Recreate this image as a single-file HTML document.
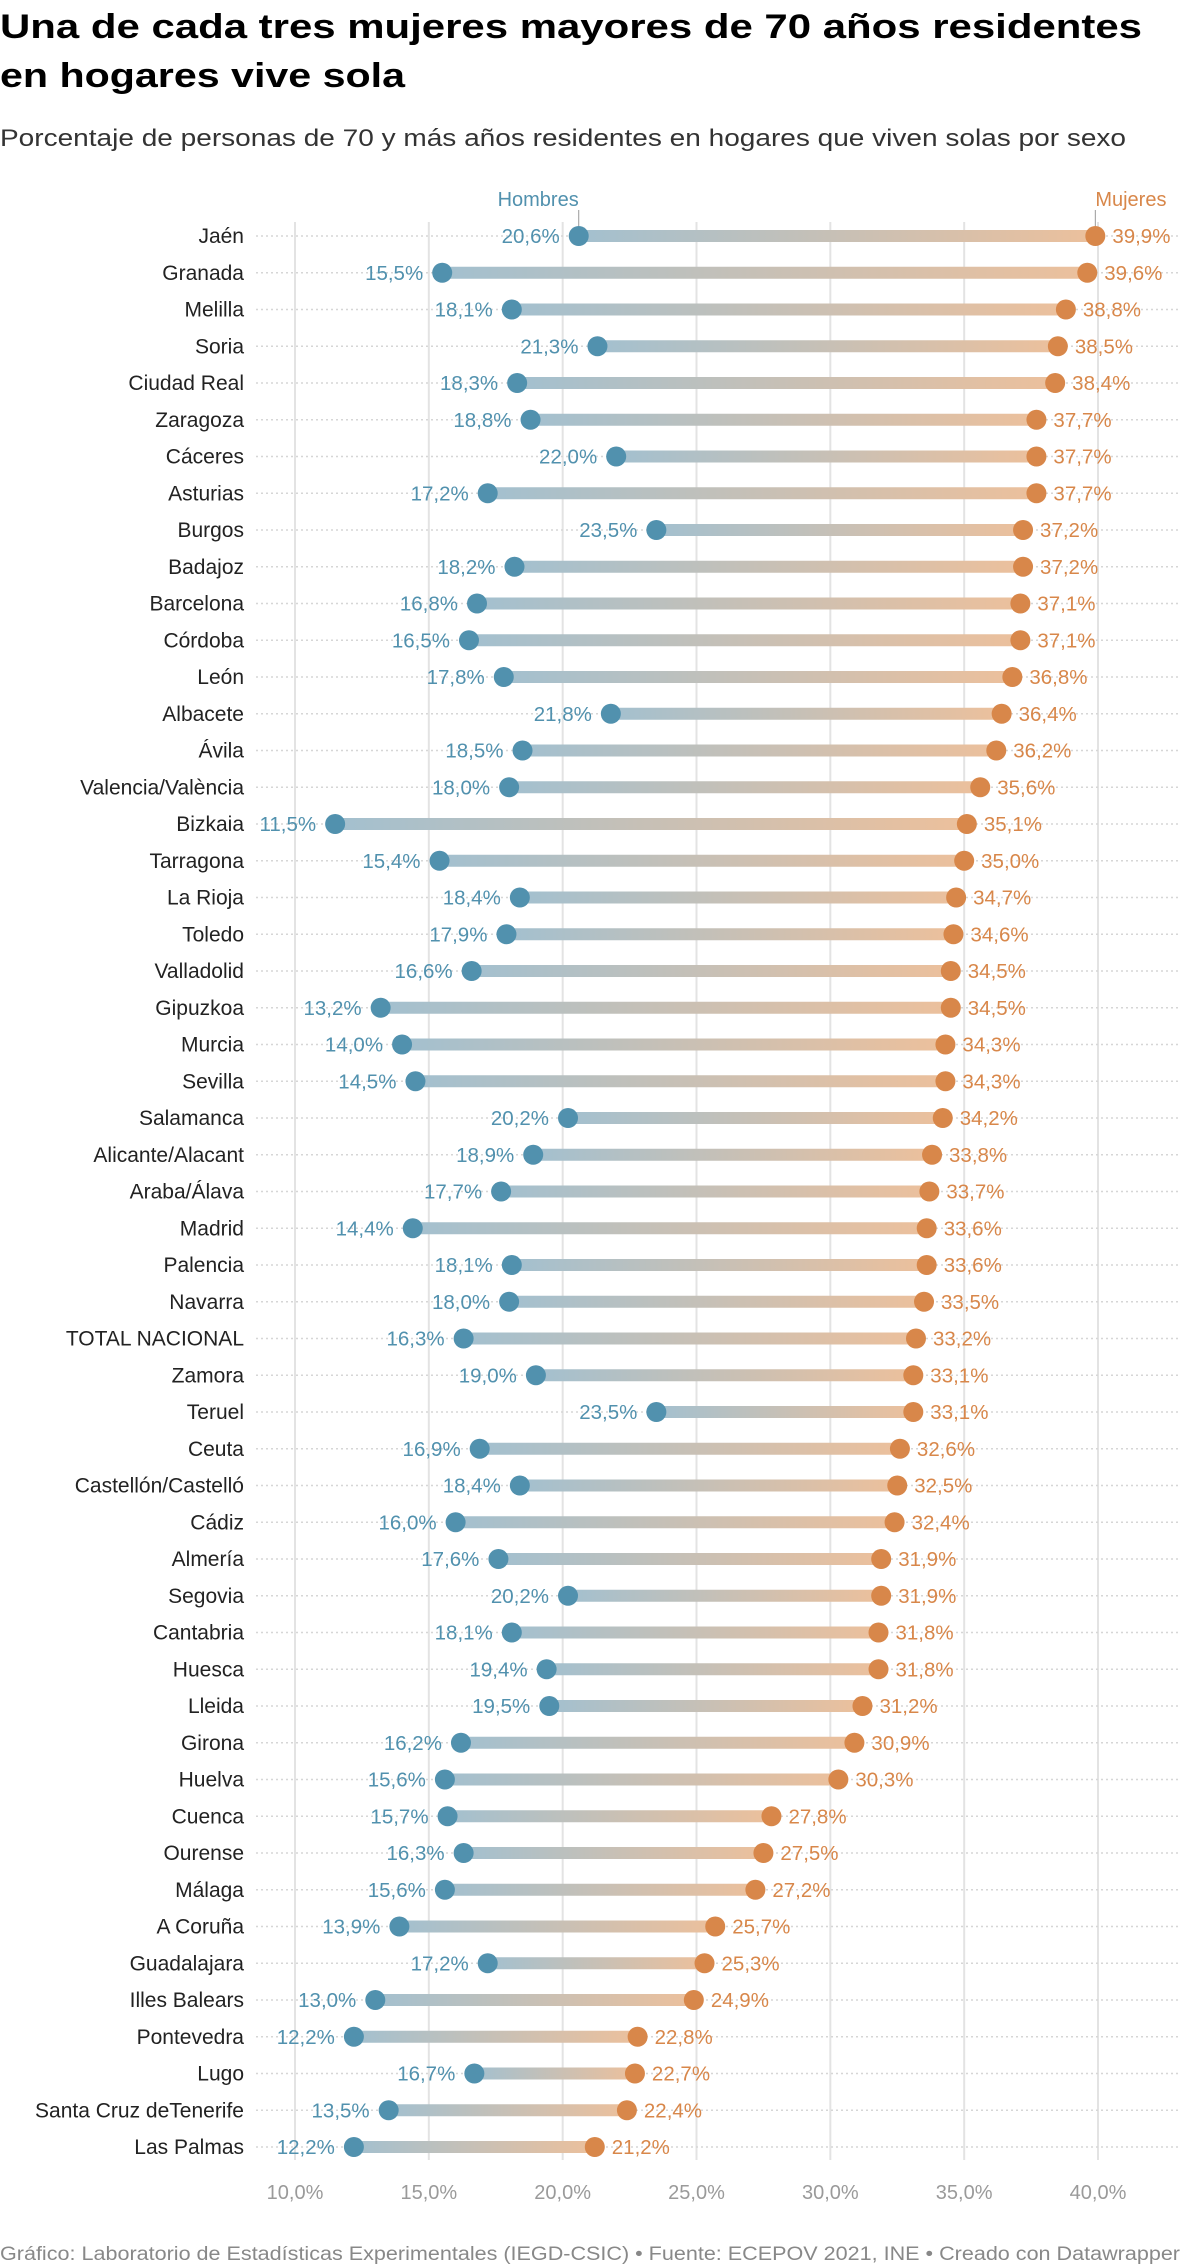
<!DOCTYPE html>
<html><head><meta charset="utf-8"><style>
html,body{margin:0;padding:0;background:#fff;}
svg{display:block;font-family:"Liberation Sans",sans-serif;}
</style></head><body>
<svg id="chart" width="1200" height="2266" viewBox="0 0 1200 2266" xmlns="http://www.w3.org/2000/svg">
<defs>
<linearGradient id="barGrad" x1="0" x2="1" y1="0" y2="0">
<stop offset="0" stop-color="#a3c0cf"/><stop offset="1" stop-color="#ecc09c"/>
</linearGradient>
</defs>
<text x="0" y="38" font-size="34" font-weight="bold" fill="#000" textLength="1142" lengthAdjust="spacingAndGlyphs">Una de cada tres mujeres mayores de 70 años residentes</text>
<text x="0" y="87" font-size="34" font-weight="bold" fill="#000" textLength="405" lengthAdjust="spacingAndGlyphs">en hogares vive sola</text>
<text x="0" y="146" font-size="24" fill="#333" textLength="1126" lengthAdjust="spacingAndGlyphs">Porcentaje de personas de 70 y más años residentes en hogares que viven solas por sexo</text>
<g id="grid"></g>
<g id="rows"></g>
<g id="xaxis"></g>
<text x="0" y="2260" font-size="19" fill="#888" textLength="1180" lengthAdjust="spacingAndGlyphs">Gráfico: Laboratorio de Estadísticas Experimentales (IEGD-CSIC) • Fuente: ECEPOV 2021, INE • Creado con Datawrapper</text>
</svg>
<script>
const categories = ["Jaén","Granada","Melilla","Soria","Ciudad Real","Zaragoza","Cáceres","Asturias","Burgos","Badajoz","Barcelona","Córdoba","León","Albacete","Ávila","Valencia/València","Bizkaia","Tarragona","La Rioja","Toledo","Valladolid","Gipuzkoa","Murcia","Sevilla","Salamanca","Alicante/Alacant","Araba/Álava","Madrid","Palencia","Navarra","TOTAL NACIONAL","Zamora","Teruel","Ceuta","Castellón/Castelló","Cádiz","Almería","Segovia","Cantabria","Huesca","Lleida","Girona","Huelva","Cuenca","Ourense","Málaga","A Coruña","Guadalajara","Illes Balears","Pontevedra","Lugo","Santa Cruz deTenerife","Las Palmas"];
const hombres = [20.6,15.5,18.1,21.3,18.3,18.8,22.0,17.2,23.5,18.2,16.8,16.5,17.8,21.8,18.5,18.0,11.5,15.4,18.4,17.9,16.6,13.2,14.0,14.5,20.2,18.9,17.7,14.4,18.1,18.0,16.3,19.0,23.5,16.9,18.4,16.0,17.6,20.2,18.1,19.4,19.5,16.2,15.6,15.7,16.3,15.6,13.9,17.2,13.0,12.2,16.7,13.5,12.2];
const mujeres = [39.9,39.6,38.8,38.5,38.4,37.7,37.7,37.7,37.2,37.2,37.1,37.1,36.8,36.4,36.2,35.6,35.1,35.0,34.7,34.6,34.5,34.5,34.3,34.3,34.2,33.8,33.7,33.6,33.6,33.5,33.2,33.1,33.1,32.6,32.5,32.4,31.9,31.9,31.8,31.8,31.2,30.9,30.3,27.8,27.5,27.2,25.7,25.3,24.9,22.8,22.7,22.4,21.2];
const xTicks = [10,15,20,25,30,35,40];

const NS = "http://www.w3.org/2000/svg";
const x = v => 295 + (v - 10) * (1098 - 295) / 30;
const y = i => 236 + i * 36.75;
const fmt = v => v.toFixed(1).replace('.', ',') + '%';
function mk(tag, attrs, parent, text) {
  const e = document.createElementNS(NS, tag);
  for (const k in attrs) e.setAttribute(k, attrs[k]);
  if (text !== undefined) e.textContent = text;
  parent.appendChild(e);
  return e;
}
const grid = document.getElementById('grid');
const rows = document.getElementById('rows');
const xaxis = document.getElementById('xaxis');
const yBottom = y(categories.length - 1) + 13;
xTicks.forEach(t => {
  const l = mk('line', {x1: x(t), x2: x(t), y1: 222, y2: yBottom, stroke: '#e3e3e3', 'stroke-width': 2}, grid);
  
  
  const tx = mk('text', {x: x(t), y: 2199, 'font-size': 20, fill: '#9a9a9a', 'text-anchor': 'middle'}, xaxis, t.toFixed(1).replace('.', ',') + '%');
  
  
});
categories.forEach((c, i) => {
  const yy = y(i);
  const g = mk('g', {}, rows);
  
  
  const dl = mk('line', {x1: 256, x2: 1178, y1: yy, y2: yy, stroke: '#d6d6d6', 'stroke-width': 1.5, 'stroke-dasharray': '2 3'}, g);
  
  
  const lab = mk('text', {x: 244, y: yy + 7, 'font-size': 21, fill: '#222', 'text-anchor': 'end'}, g, c);
  
  
  const x1 = x(hombres[i]), x2 = x(mujeres[i]);
  const bar = mk('rect', {x: x1, y: yy - 6, width: x2 - x1, height: 12, fill: 'url(#barGrad)'}, g);
  
  
  const d1 = mk('circle', {cx: x1, cy: yy, r: 10, fill: '#5191ae'}, g);
  
  
  const d2 = mk('circle', {cx: x2, cy: yy, r: 10, fill: '#d8874a'}, g);
  
  
  const v1 = mk('text', {x: x1 - 19, y: yy + 7, 'font-size': 20.5, fill: '#5191ae', 'text-anchor': 'end'}, g, fmt(hombres[i]));
  
  
  const v2 = mk('text', {x: x2 + 17, y: yy + 7, 'font-size': 20.5, fill: '#d8874a'}, g, fmt(mujeres[i]));
  
  
});
const hx = x(hombres[0]), mx = x(mujeres[0]);
const hl = mk('text', {x: hx, y: 206, 'font-size': 20, fill: '#5191ae', 'text-anchor': 'end'}, rows, 'Hombres');


const ht = mk('line', {x1: hx, x2: hx, y1: 210, y2: 226, stroke: '#999', 'stroke-width': 1}, rows);


const ml = mk('text', {x: mx, y: 206, 'font-size': 20, fill: '#d8874a'}, rows, 'Mujeres');


const mt = mk('line', {x1: mx, x2: mx, y1: 210, y2: 226, stroke: '#999', 'stroke-width': 1}, rows);


</script>
</body></html>
